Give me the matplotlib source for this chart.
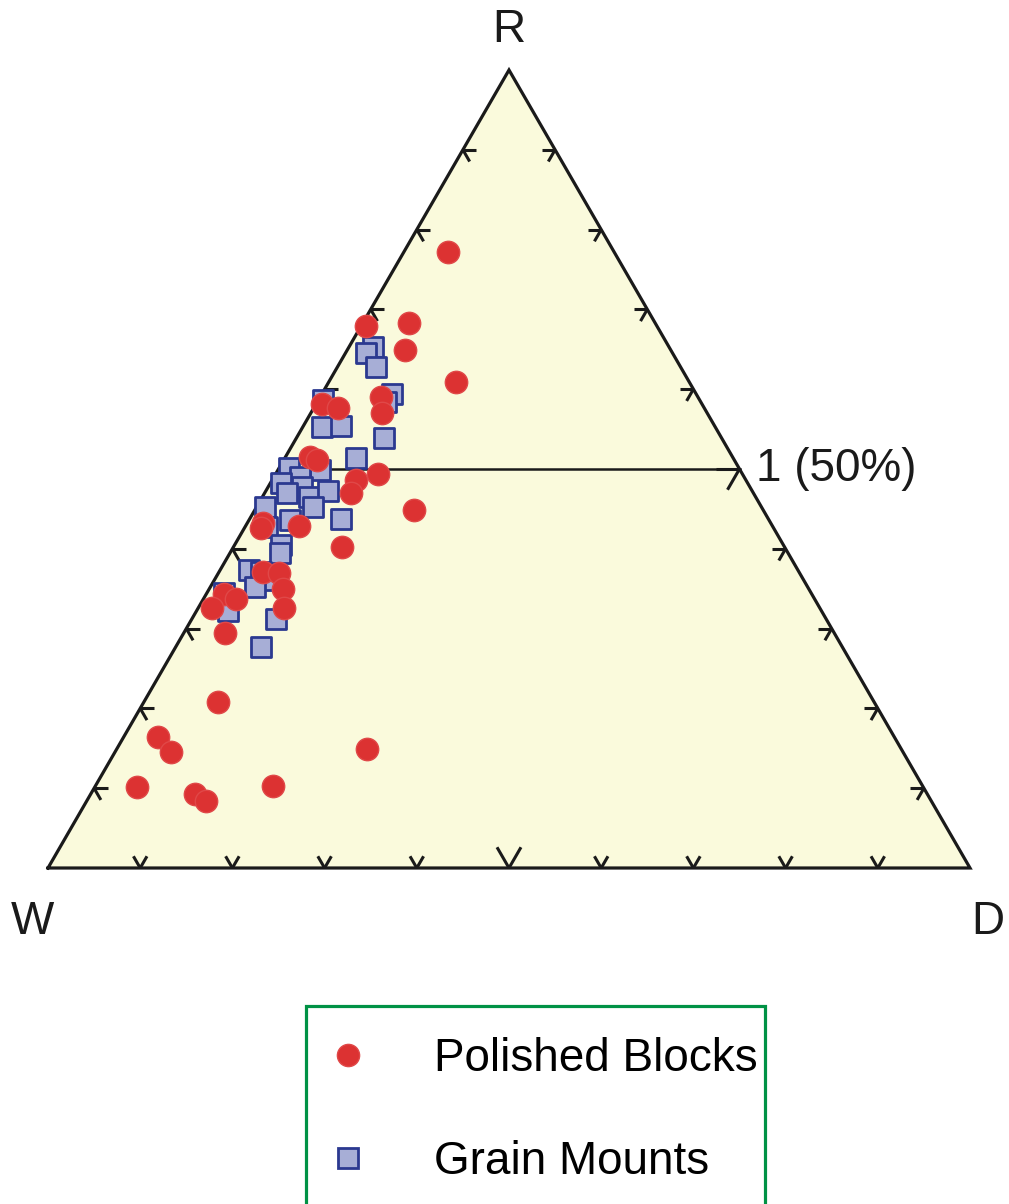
from __future__ import annotations

import numpy as np
import matplotlib

matplotlib.use("Agg")
import matplotlib.pyplot as plt
from matplotlib.lines import Line2D
from matplotlib.patches import Rectangle


# ternary compositions (fractions of R and D, W is the remainder)
polished_r = [0.772, 0.679, 0.683, 0.649, 0.609, 0.590, 0.570, 0.581, 0.576,
              0.515, 0.511, 0.486, 0.494, 0.470, 0.449, 0.432, 0.426, 0.429,
              0.402, 0.371, 0.370, 0.350, 0.343, 0.337, 0.326, 0.326, 0.295,
              0.208, 0.164, 0.145, 0.102, 0.093, 0.084, 0.103, 0.149]
polished_d = [0.048, 0.005, 0.050, 0.063, 0.138, 0.066, 0.077, 0.007, 0.027,
              0.027, 0.036, 0.091, 0.111, 0.094, 0.173, 0.017, 0.018, 0.058,
              0.118, 0.048, 0.066, 0.080, 0.019, 0.035, 0.015, 0.093, 0.045,
              0.080, 0.037, 0.061, 0.045, 0.113, 0.129, 0.193, 0.271]

grain_r = [0.653, 0.645, 0.628, 0.594, 0.584, 0.587, 0.553, 0.554, 0.539,
           0.514, 0.501, 0.499, 0.490, 0.482, 0.477, 0.470, 0.465, 0.472,
           0.452, 0.452, 0.436, 0.437, 0.427, 0.405, 0.395, 0.373, 0.371,
           0.361, 0.352, 0.345, 0.322, 0.312, 0.277]
grain_d = [0.026, 0.022, 0.042, 0.076, 0.075, 0.005, 0.021, 0.041, 0.095,
           0.077, 0.011, 0.046, 0.028, 0.012, 0.037, 0.024, 0.051, 0.068,
           0.061, 0.009, 0.045, 0.099, 0.024, 0.050, 0.054, 0.032, 0.045,
           0.063, 0.049, 0.018, 0.034, 0.091, 0.093]

tick_fractions = [0.1, 0.2, 0.3, 0.4, 0.5, 0.6, 0.7, 0.8, 0.9]
ref_level = 0.5
ref_label = "1 (50%)"
series_labels = ["Polished Blocks", "Grain Mounts"]

H = np.sqrt(3) / 2
LINE_COLOR = "#1a1a1a"
FILL_COLOR = "#fafadc"


def to_xy(r, d):
    r = np.asarray(r)
    d = np.asarray(d)
    return d + r / 2, r * H


def draw_tick(ax, point, directions, length):
    x0, y0 = point
    for dx, dy in directions:
        ax.plot([x0, x0 + dx * length], [y0, y0 + dy * length],
                color=LINE_COLOR, linewidth=2.2, solid_capstyle="butt", zorder=3)


def main() -> None:
    plt.rcParams["font.family"] = ["Liberation Sans", "DejaVu Sans"]
    fig = plt.figure(figsize=(10.09, 12.04), dpi=100)
    ax = fig.add_axes([48 / 1009, (1204 - 868) / 1204, 922 / 1009, 798 / 1204])
    ax.set_xlim(0, 1)
    ax.set_ylim(0, H)
    ax.axis("off")

    corners_x = [0, 1, 0.5, 0]
    corners_y = [0, 0, H, 0]
    ax.fill(corners_x, corners_y, color=FILL_COLOR, zorder=0)
    ax.plot(corners_x, corners_y, color=LINE_COLOR, linewidth=2.3,
            solid_joinstyle="miter", zorder=4, clip_on=False)

    # reference line at R = 50 %
    ax.plot([ref_level / 2, 1 - ref_level / 2], [ref_level * H, ref_level * H],
            color=LINE_COLOR, linewidth=1.8, zorder=1)

    small, big = 0.0147, 0.026
    for t in tick_fractions:
        # bottom edge
        draw_tick(ax, (t, 0), [(-0.5, H), (0.5, H)], big if t == 0.5 else small)
        # left edge
        draw_tick(ax, (t / 2, t * H), [(1, 0), (0.5, -H)], small)
        # right edge
        draw_tick(ax, (1 - t / 2, t * H), [(-1, 0), (-0.5, -H)],
                  big if t == ref_level else small)

    gx, gy = to_xy(grain_r, grain_d)
    ax.scatter(gx, gy, s=200, marker="s", facecolor="#a7aed6",
               edgecolor="#2b3990", linewidth=2.0, zorder=5, clip_on=False)
    px, py = to_xy(polished_r, polished_d)
    ax.scatter(px, py, s=260, marker="o", facecolor="#dc3232",
               edgecolor="#e04848", linewidth=1.0, zorder=6, clip_on=False)

    label_kw = dict(textcoords="offset points", fontsize=33, color=LINE_COLOR,
                    ha="center", va="center", annotation_clip=False)
    ax.annotate("R", xy=(0.5, H), xytext=(0, 29), **label_kw)
    ax.annotate("W", xy=(0, 0), xytext=(-11.5, -39), **label_kw)
    ax.annotate("D", xy=(1, 0), xytext=(13, -39), **label_kw)
    ax.annotate(ref_label, xy=(1 - ref_level / 2, ref_level * H), xytext=(12, 0),
                textcoords="offset points", fontsize=33, color=LINE_COLOR,
                ha="left", va="center", annotation_clip=False)

    handles = [
        Line2D([], [], linestyle="none", marker="o", markersize=16,
               markerfacecolor="#dc3232", markeredgecolor="#e04848",
               markeredgewidth=1.0),
        Line2D([], [], linestyle="none", marker="s", markersize=14,
               markerfacecolor="#a7aed6", markeredgecolor="#2b3990",
               markeredgewidth=2.0),
    ]
    fig.legend(handles, series_labels, loc="upper left",
               bbox_to_anchor=(306 / 1009, 1 - 1019 / 1204),
               borderaxespad=0, fontsize=33, frameon=False,
               borderpad=0.4, handlelength=1.03,
               handletextpad=1.37, labelspacing=1.27)
    # legend border, open at the bottom edge of the image as in the original
    fig.patches.append(Rectangle((306 / 1009, -0.02), (765 - 306) / 1009,
                                 0.02 + (1204 - 1006) / 1204,
                                 transform=fig.transFigure, fill=False,
                                 edgecolor="#009245", linewidth=2.3))

    fig.savefig("out.png", dpi=100)


if __name__ == "__main__":
    main()
